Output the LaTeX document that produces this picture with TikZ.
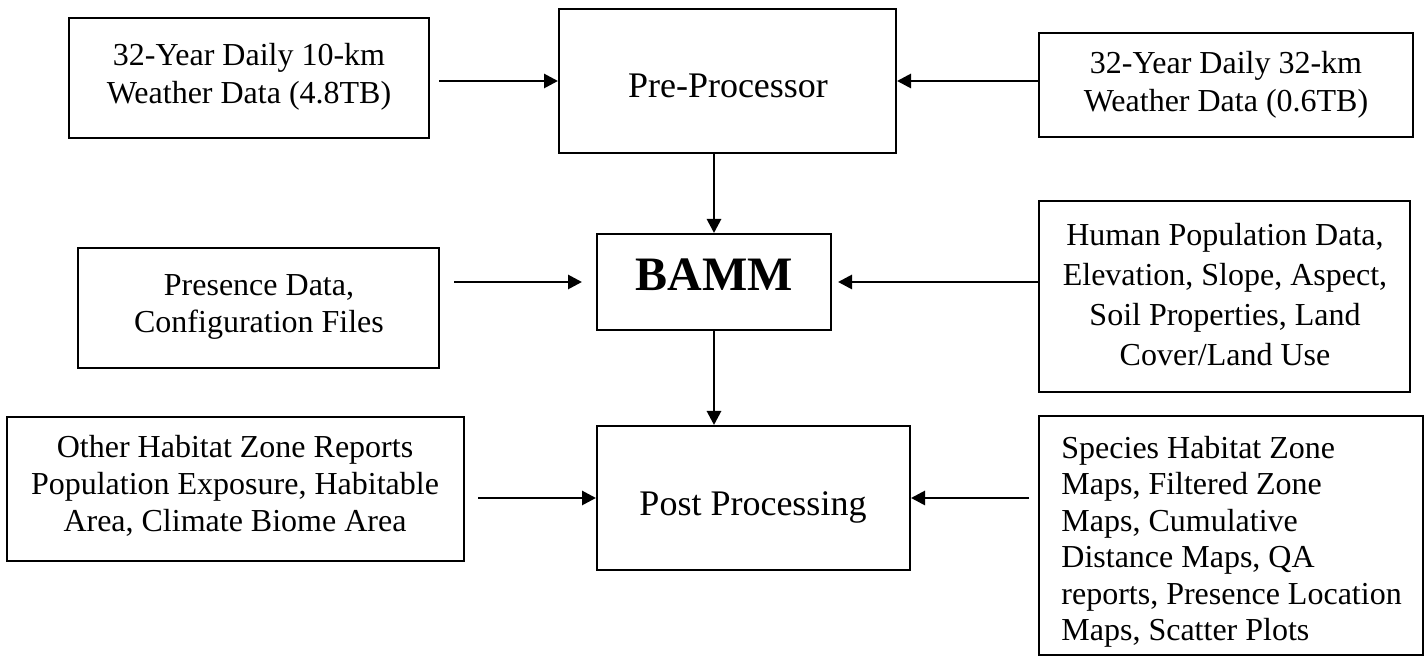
\documentclass[tikz,border=0pt]{standalone}
\usepackage{fontspec}
\setmainfont{Liberation Serif}
\usetikzlibrary{arrows.meta,fit}

\begin{document}
\begin{tikzpicture}[x=0.5pt,y=-0.5pt,>={Triangle[length=7pt,width=7pt]},
  box/.style={draw,line width=1pt,inner sep=0pt},
  txt/.style={inner sep=0pt,align=center,font=\fontsize{16}{19}\selectfont},
  arr/.style={->,line width=1.4pt}]
  \useasboundingbox (0,0) rectangle (1426,656);

  % boxes
  \node[box,fit={(69,18) (429,138)}] (wx10) {};
  \node[box,fit={(559,9) (896,153)}] (pre) {};
  \node[box,fit={(1039,33) (1413,137)}] (wx32) {};
  \node[box,fit={(78,248) (439,368)}] (pres) {};
  \node[box,fit={(597,234) (831,330)}] (bamm) {};
  \node[box,fit={(1039,201) (1410,392)}] (human) {};
  \node[box,fit={(7,417) (464,561)}] (other) {};
  \node[box,fit={(597,426) (910,570)}] (post) {};
  \node[box,fit={(1039,416) (1423,655)}] (maps) {};

  % texts
  \node[txt,anchor=north] (wx10txt) at (249,43) {32-Year Daily 10-km\\Weather Data (4.8TB)};
  \node[txt,anchor=base,font=\fontsize{18}{22}\selectfont] (pretxt) at (728,98) {Pre-Processor};
  \node[txt,anchor=north] (wx32txt) at (1226,51) {32-Year Daily 32-km\\Weather Data (0.6TB)};
  \node[txt,anchor=north,font=\fontsize{16}{18.4}\selectfont] (prestxt) at (259,274) {Presence Data,\\Configuration Files};
  \node[txt,anchor=base,font=\fontsize{24}{28}\selectfont\bfseries] (bammtxt) at (714,291) {BAMM};
  \node[txt,anchor=north,font=\fontsize{16}{20}\selectfont] (humantxt) at (1225,223) {Human Population Data,\\Elevation, Slope, Aspect,\\Soil Properties, Land\\Cover/Land Use};
  \node[txt,anchor=north,font=\fontsize{16}{18.4}\selectfont] (othertxt) at (235,435) {Other Habitat Zone Reports\\Population Exposure, Habitable\\Area, Climate Biome Area};
  \node[txt,anchor=base,font=\fontsize{18}{22}\selectfont] (posttxt) at (753,516) {Post Processing};
  \node[txt,anchor=north west,align=left,font=\fontsize{16}{18.2}\selectfont] (mapstxt) at (1061,436) {Species Habitat Zone\\Maps, Filtered Zone\\Maps, Cumulative\\Distance Maps, QA\\reports, Presence Location\\Maps, Scatter Plots};

  % arrows
  \draw[arr,shorten <=4.5pt] (wx10.east |- pre.west) -- (pre.west);
  \draw[arr] (wx32.west |- pre.east) -- (pre.east);
  \draw[arr] (pre.south -| bamm.north) -- (bamm.north);
  \draw[arr,shorten <=7pt,shorten >=7pt] (pres.east |- bamm.west) -- (bamm.west);
  \draw[arr,shorten >=3pt] (human.west |- bamm.east) -- (bamm.east);
  \draw[arr] (bamm.south) -- (post.north -| bamm.south);
  \draw[arr,shorten <=6.5pt] (other.east |- post.west) -- (post.west);
  \draw[arr,shorten <=4.5pt] (maps.west |- post.east) -- (post.east);
\end{tikzpicture}
\end{document}
